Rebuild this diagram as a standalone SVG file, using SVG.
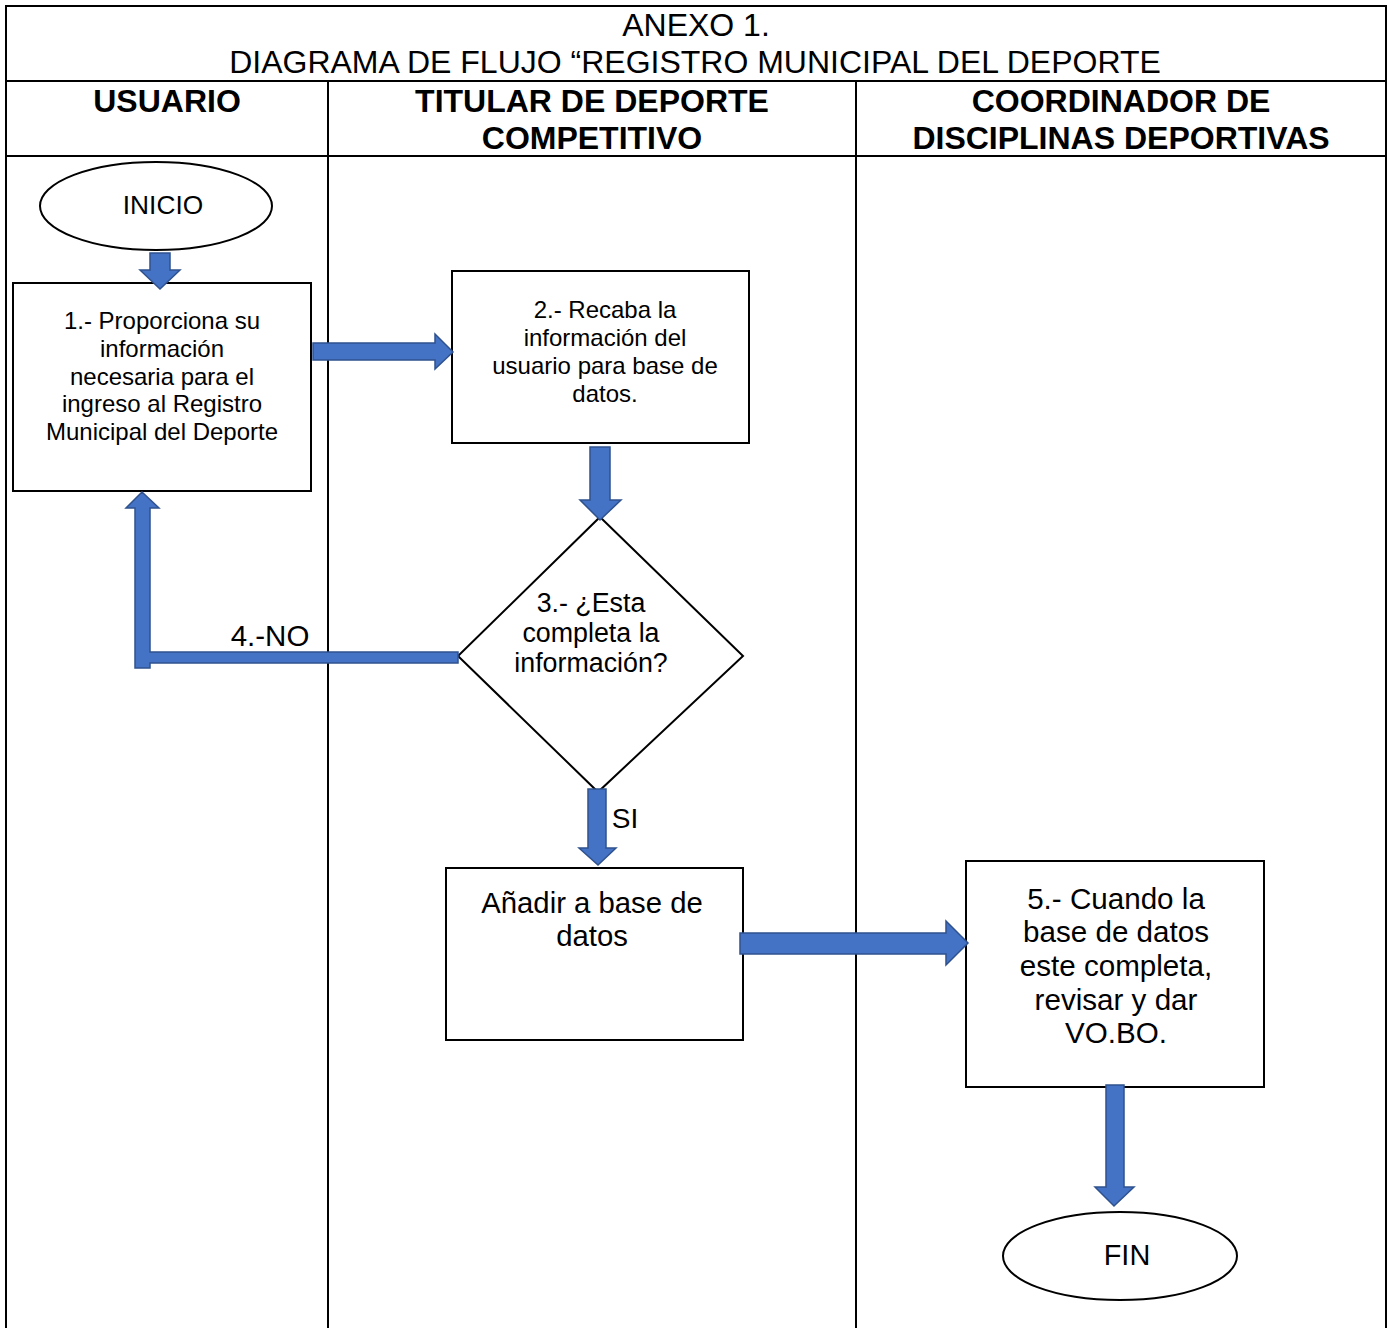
<svg xmlns="http://www.w3.org/2000/svg" width="1390" height="1328" viewBox="0 0 1390 1328">
<style>
.grid{stroke:#000;stroke-width:2;fill:none}
.shape{stroke:#000;stroke-width:2;fill:#fff}
.arrow{fill:#4472C4;stroke:#2F528F;stroke-width:1.5;stroke-linejoin:miter}
text{font-family:"Liberation Sans",Arial,sans-serif;fill:#000;text-anchor:middle}
.title{font-size:32px}
.head{font-size:32px;font-weight:bold}
</style>
<rect width="1390" height="1328" fill="#fff"/>
<g id="table">
<path class="grid" d="M6,1328 V6 H1386 V1328 M6,81 H1386 M6,156 H1386 M328,81 V1328 M856,81 V1328"/>
<text class="title" x="696" y="36">ANEXO 1.</text>
<text class="title" x="695" y="73">DIAGRAMA DE FLUJO “REGISTRO MUNICIPAL DEL DEPORTE</text>
<text class="head" x="167" y="112">USUARIO</text>
<text class="head" x="592" y="112">TITULAR DE DEPORTE</text>
<text class="head" x="592" y="149">COMPETITIVO</text>
<text class="head" x="1121" y="112">COORDINADOR DE</text>
<text class="head" x="1121" y="149">DISCIPLINAS DEPORTIVAS</text>
</g>
<g id="inicio">
<ellipse class="shape" cx="156" cy="206" rx="116" ry="44"/>
<text x="163" y="214" font-size="26.3">INICIO</text>
</g>
<g id="paso1">
<rect class="shape" x="13" y="283" width="298" height="208"/>
<text font-size="24"><tspan x="162" y="329">1.- Proporciona su</tspan><tspan x="162" y="357">información</tspan><tspan x="162" y="385">necesaria para el</tspan><tspan x="162" y="412">ingreso al Registro</tspan><tspan x="162" y="440">Municipal del Deporte</tspan></text>
</g>
<g id="paso2">
<rect class="shape" x="452" y="271" width="297" height="172"/>
<text font-size="24"><tspan x="605" y="318">2.- Recaba la</tspan><tspan x="605" y="346">información del</tspan><tspan x="605" y="374">usuario para base de</tspan><tspan x="605" y="402">datos.</tspan></text>
</g>
<g id="paso3">
<polygon class="shape" points="600,517 743,656 598,792 458,656"/>
<text font-size="26.8"><tspan x="591" y="612">3.- ¿Esta</tspan><tspan x="591" y="642">completa la</tspan><tspan x="591" y="672">información?</tspan></text>
</g>
<g id="anadir">
<rect class="shape" x="446" y="868" width="297" height="172"/>
<text font-size="29.3"><tspan x="592" y="913">Añadir a base de</tspan><tspan x="592" y="946">datos</tspan></text>
</g>
<g id="paso5">
<rect class="shape" x="966" y="861" width="298" height="226"/>
<text font-size="29.6"><tspan x="1116" y="909">5.- Cuando la</tspan><tspan x="1116" y="942">base de datos</tspan><tspan x="1116" y="976">este completa,</tspan><tspan x="1116" y="1010">revisar y dar</tspan><tspan x="1116" y="1043">VO.BO.</tspan></text>
</g>
<g id="fin">
<ellipse class="shape" cx="1120" cy="1256" rx="117" ry="44"/>
<text x="1127" y="1265" font-size="28.9">FIN</text>
</g>
<g id="connectors">
<polygon class="arrow" points="150,253 170,253 170,270 180,270 160,289 140,270 150,270"/>
<polygon class="arrow" points="313,343 435,343 435,334 453,352 435,369 435,360 313,360"/>
<polygon class="arrow" points="590,447 610,447 610,500 621,500 600,520 580,500 590,500"/>
<polygon class="arrow" points="135,508 135,668 150,668 150,663 458,663 458,652 150,652 150,508 159,508 142,492 126,508"/>
<text x="270" y="646" font-size="29.5">4.-NO</text>
<polygon class="arrow" points="588,789 606,789 606,848 616,848 598,865 579,848 588,848"/>
<text x="625" y="828" font-size="28">SI</text>
<polygon class="arrow" points="740,933 946,933 946,921 968,943 946,965 946,954 740,954"/>
<polygon class="arrow" points="1106,1085 1124,1085 1124,1187 1134,1187 1114,1206 1095,1187 1106,1187"/>
</g>
</svg>
